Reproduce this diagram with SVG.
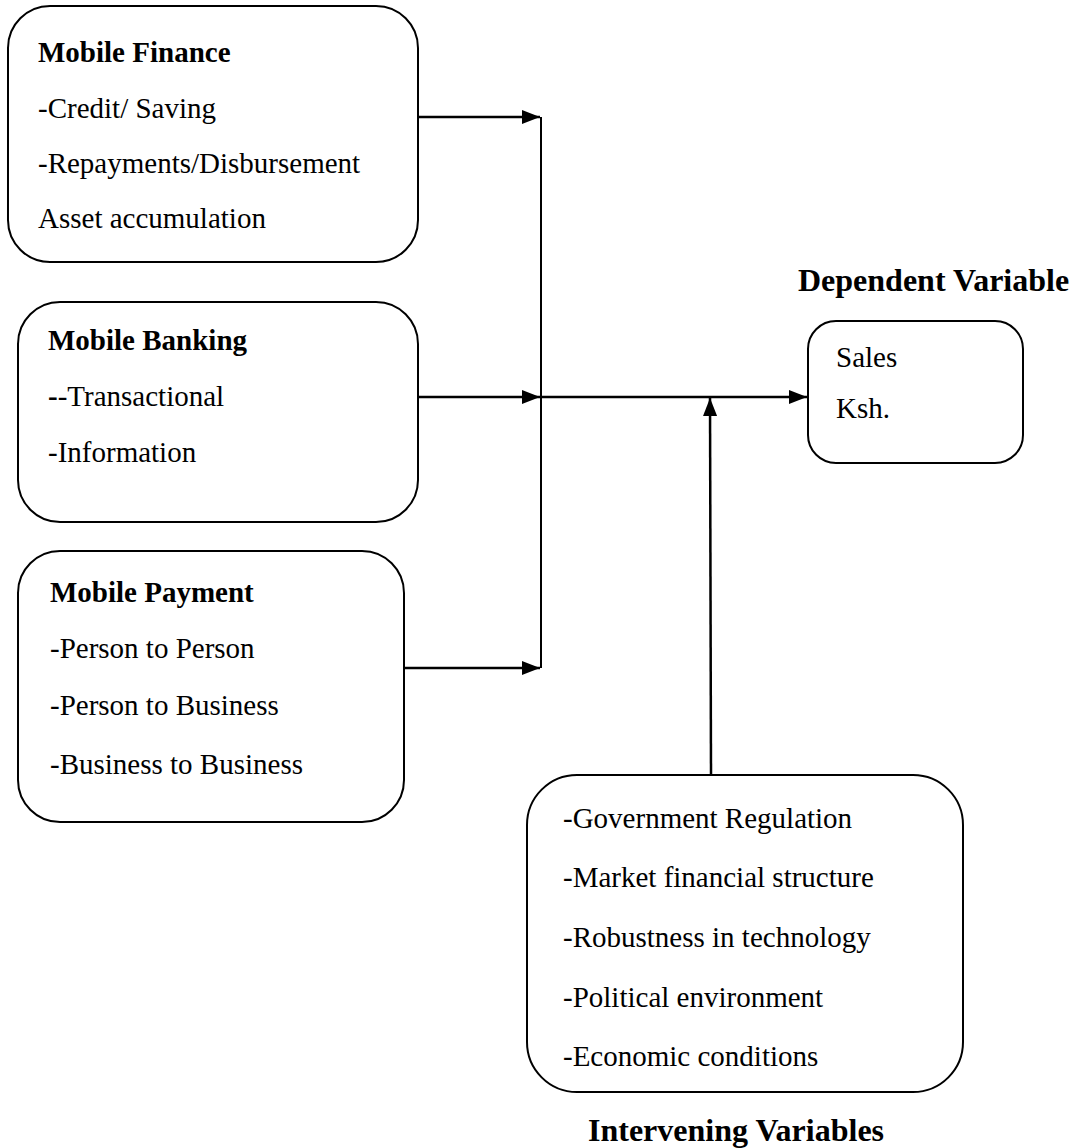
<svg xmlns="http://www.w3.org/2000/svg" width="1078" height="1148" viewBox="0 0 1078 1148">
<defs>
<style>
.box{fill:#fff;stroke:#000;stroke-width:2}
.t{font-family:"Liberation Serif","Times New Roman",serif;font-size:29px;fill:#000}
.b{font-weight:bold}
.h{font-family:"Liberation Serif","Times New Roman",serif;font-size:32px;font-weight:bold;fill:#000}
.c{stroke:#000;stroke-width:2.5;fill:none}
</style>
<marker id="ah" viewBox="0 0 18 14" refX="18" refY="7" markerWidth="18" markerHeight="14" orient="auto" markerUnits="userSpaceOnUse">
<path d="M0,0 L18,7 L0,14 z" fill="#000"/>
</marker>
</defs>
<rect width="1078" height="1148" fill="#fff"/>
<g id="connectors">
<line class="c" x1="418" y1="117" x2="540" y2="117" marker-end="url(#ah)"/>
<line class="c" x1="418" y1="397" x2="540" y2="397" marker-end="url(#ah)"/>
<line class="c" x1="404" y1="668" x2="540" y2="668" marker-end="url(#ah)"/>
<line x1="541" y1="117" x2="541" y2="668" stroke="#000" stroke-width="2"/>
<line class="c" x1="541" y1="397" x2="807" y2="397" marker-end="url(#ah)"/>
<line class="c" x1="711" y1="774" x2="710" y2="398" marker-end="url(#ah)"/>
</g>
<g id="mobile-finance">
<rect class="box" x="8" y="6" width="410" height="256" rx="42"/>
<text class="t b" x="38" y="62">Mobile Finance</text>
<text class="t" x="38" y="118">-Credit/ Saving</text>
<text class="t" x="38" y="173">-Repayments/Disbursement</text>
<text class="t" x="38" y="228">Asset accumulation</text>
</g>
<g id="mobile-banking">
<rect class="box" x="18" y="302" width="400" height="220" rx="42"/>
<text class="t b" x="48" y="350">Mobile Banking</text>
<text class="t" x="48" y="406"><tspan class="b">-</tspan>-Transactional</text>
<text class="t" x="48" y="462">-Information</text>
</g>
<g id="mobile-payment">
<rect class="box" x="18" y="551" width="386" height="271" rx="42"/>
<text class="t b" x="50" y="602">Mobile Payment</text>
<text class="t" x="50" y="658">-Person to Person</text>
<text class="t" x="50" y="715">-Person to Business</text>
<text class="t" x="50" y="774">-Business to Business</text>
</g>
<g id="dependent">
<text class="h" x="798" y="291">Dependent Variable</text>
<rect class="box" x="808" y="321" width="215" height="142" rx="28"/>
<text class="t" x="836" y="367">Sales</text>
<text class="t" x="836" y="418">Ksh.</text>
</g>
<g id="intervening">
<rect class="box" x="527" y="775" width="436" height="317" rx="50"/>
<text class="t" x="563" y="828">-Government Regulation</text>
<text class="t" x="563" y="887">-Market financial structure</text>
<text class="t" x="563" y="947">-Robustness in technology</text>
<text class="t" x="563" y="1007">-Political environment</text>
<text class="t" x="563" y="1066">-Economic conditions</text>
<text class="h" x="588" y="1141">Intervening Variables</text>
</g>
</svg>
